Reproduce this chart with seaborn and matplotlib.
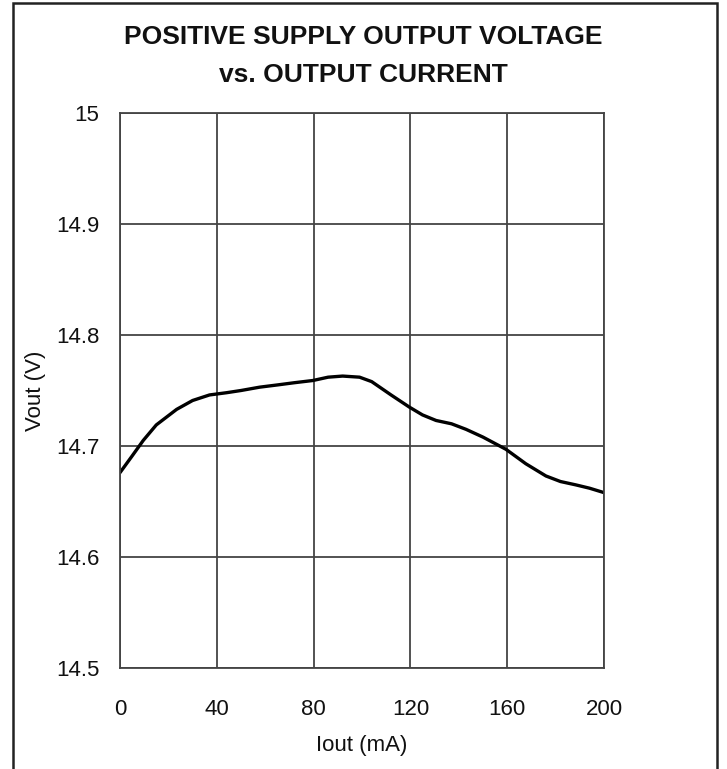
import matplotlib
matplotlib.use("Agg")
import matplotlib.pyplot as plt
import seaborn as sns
import pandas as pd
from matplotlib.patches import Rectangle

iout_ma = [0, 5, 9.6, 15, 23.4, 30, 37, 44, 50, 57.7, 65, 72, 79.7, 86, 92, 99, 104, 112, 119.6, 125, 130.6, 137, 143, 150, 159.5, 167.7, 176, 182, 188.3, 194, 200]
vout_v = [14.676, 14.691, 14.705, 14.719, 14.733, 14.741, 14.746, 14.748, 14.750, 14.753, 14.755, 14.757, 14.759, 14.762, 14.763, 14.762, 14.758, 14.746, 14.735, 14.728, 14.723, 14.720, 14.715, 14.708, 14.697, 14.684, 14.673, 14.668, 14.665, 14.662, 14.658]
x_ticks = [0, 40, 80, 120, 160, 200]
y_ticks = [14.5, 14.6, 14.7, 14.8, 14.9, 15.0]
y_tick_labels = ["14.5", "14.6", "14.7", "14.8", "14.9", "15"]

sns.set_theme(style="white")
plt.rcParams['font.family'] = ['Liberation Sans Narrow', 'Liberation Sans', 'DejaVu Sans']

df = pd.DataFrame({"Iout": iout_ma, "Vout": vout_v})

fig = plt.figure(figsize=(7.27, 7.69), dpi=100)
ax = fig.add_axes([120/727, 1-668/769, (604-120)/727, (668-113)/769])
sns.lineplot(data=df, x="Iout", y="Vout", ax=ax, color="black", linewidth=2.4)

ax.set_xlim(0, 200)
ax.set_ylim(14.5, 15.0)
ax.set_xticks(x_ticks)
ax.set_xticklabels([str(t) for t in x_ticks])
ax.set_yticks(y_ticks)
ax.set_yticklabels(y_tick_labels)
ax.grid(True, color="#444444", linewidth=1.3)
for s in ax.spines.values():
    s.set_color("#444444")
    s.set_linewidth(1.3)
ax.tick_params(axis="x", length=0, pad=22, labelsize=16, colors="#111111")
ax.tick_params(axis="y", length=0, pad=15, labelsize=16, colors="#111111")
ax.set_xlabel("Iout (mA)", fontsize=16, color="#111111")
ax.set_ylabel("Vout (V)", fontsize=16, color="#111111")
ax.xaxis.set_label_coords(0.5, (668-745)/555)
ax.xaxis.label.set_va("center")
ax.yaxis.set_label_coords((35-120)/484, 0.5)
ax.yaxis.label.set_va("center")

fig.text(0.5, 1-37/769, "POSITIVE SUPPLY OUTPUT VOLTAGE", ha="center", va="center",
         fontsize=19, fontweight="bold", color="#111111")
fig.text(0.5, 1-75/769, "vs. OUTPUT CURRENT", ha="center", va="center",
         fontsize=19, fontweight="bold", color="#111111")

frame = Rectangle((13/727, -0.05), (717-13)/727, 1.05 - 3/769, transform=fig.transFigure,
                  fill=False, edgecolor="#222222", linewidth=1.8, clip_on=False)
fig.patches.append(frame)

fig.savefig("out.png", dpi=100)
